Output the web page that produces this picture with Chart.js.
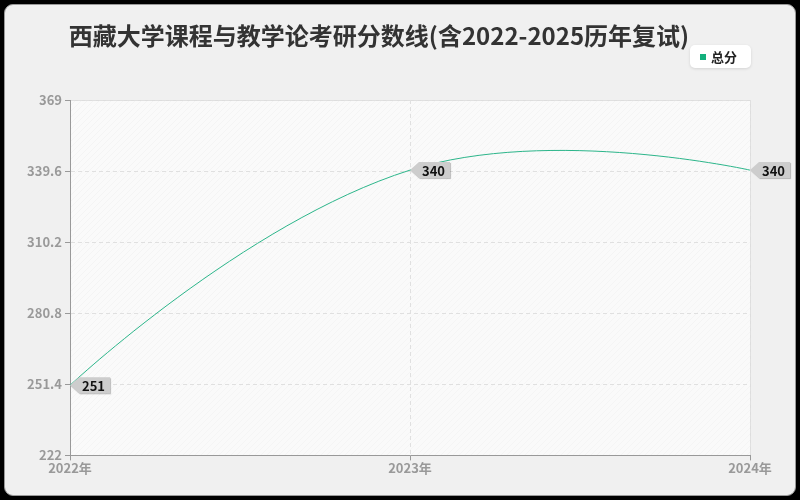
<!DOCTYPE html>
<html>
<head>
<meta charset="utf-8">
<script src="https://cdn.jsdelivr.net/npm/chart.js@4.4.1/dist/chart.umd.min.js"></script>
<style>
  html, body { margin: 0; padding: 0; background: #000; }
  #wrap { position: relative; width: 800px; height: 500px; }
  #panel {
    position: absolute; left: 4px; top: 4px; width: 790px; height: 490px;
    background: #f0f0f0; border: 1px solid #9a9a9a; border-radius: 9px;
  }
  #chart { position: absolute; left: 0; top: 0; }
</style>
</head>
<body>
<div id="wrap">
  <div id="panel"></div>
  <canvas id="chart" width="800" height="500"></canvas>
</div>
<script>
// Chart data
const titleText = '西藏大学课程与教学论考研分数线(含2022-2025历年复试)';
const years = ['2022年', '2023年', '2024年'];
const totalScores = [251, 340, 340];
const seriesName = '总分';
const yTicks = [222, 251.4, 280.8, 310.2, 339.6, 369];

const LINE_COLOR = '#2cb58a';
const FONT = '"Noto Sans CJK SC", "Noto Sans", sans-serif';
const SMOOTH = 0.45;

// --- Plugins ---

const plotBackground = {
  id: 'plotBackground',
  beforeDraw(chart) {
    const { ctx, chartArea: a } = chart;
    ctx.save();
    ctx.fillStyle = '#fafafa';
    ctx.fillRect(a.left, a.top, a.right - a.left, a.bottom - a.top);
    // faint diagonal hatching
    ctx.beginPath();
    ctx.rect(a.left, a.top, a.right - a.left, a.bottom - a.top);
    ctx.clip();
    ctx.strokeStyle = 'rgba(0,0,0,0.025)';
    ctx.lineWidth = 1;
    const h = a.bottom - a.top;
    for (let x = a.left - h; x < a.right; x += 6) {
      ctx.beginPath();
      ctx.moveTo(x, a.bottom);
      ctx.lineTo(x + h, a.top);
      ctx.stroke();
    }
    ctx.restore();
    // light border top/right
    ctx.save();
    ctx.strokeStyle = '#dddddd';
    ctx.lineWidth = 1;
    ctx.beginPath();
    ctx.moveTo(a.left, a.top + 0.5);
    ctx.lineTo(a.right + 0.5, a.top + 0.5);
    ctx.lineTo(a.right + 0.5, a.bottom);
    ctx.stroke();
    ctx.restore();
  },
};

// endpoints keep their own position as control point, inner points
// get a tangent along prev->next split by segment length
const smoothCurve = {
  id: 'smoothCurve',
  beforeDatasetsDraw(chart) {
    const meta = chart.getDatasetMeta(0);
    const pts = meta.data;
    meta.dataset.updateControlPoints(chart.chartArea, 'x');
    pts.forEach((p, i) => {
      const prev = pts[i - 1], next = pts[i + 1];
      if (!prev || !next) {
        p.cp1x = p.cp2x = p.x;
        p.cp1y = p.cp2y = p.y;
        return;
      }
      const vx = next.x - prev.x, vy = next.y - prev.y;
      const d0 = Math.hypot(p.x - prev.x, p.y - prev.y);
      const d1 = Math.hypot(next.x - p.x, next.y - p.y);
      const r = d1 / (d0 + d1);
      p.cp1x = p.x - vx * SMOOTH * (1 - r);
      p.cp1y = p.y - vy * SMOOTH * (1 - r);
      p.cp2x = p.x + vx * SMOOTH * r;
      p.cp2y = p.y + vy * SMOOTH * r;
    });
  },
};

const titleAndLegend = {
  id: 'titleAndLegend',
  afterDraw(chart) {
    const { ctx } = chart;
    ctx.save();
    ctx.fillStyle = '#333333';
    ctx.font = `bold 24px ${FONT}`;
    ctx.textAlign = 'center';
    ctx.textBaseline = 'middle';
    ctx.fillText(titleText, 379, 36);

    // legend box
    const bx = 690, by = 45, bw = 61, bh = 23;
    ctx.shadowColor = 'rgba(0,0,0,0.12)';
    ctx.shadowBlur = 3;
    ctx.shadowOffsetY = 1;
    ctx.fillStyle = '#ffffff';
    ctx.beginPath();
    ctx.roundRect(bx, by, bw, bh, 5);
    ctx.fill();
    ctx.shadowColor = 'transparent';
    ctx.fillStyle = '#12b07c';
    ctx.fillRect(bx + 10, by + 9, 6, 6);
    ctx.fillStyle = '#222222';
    ctx.font = `bold 13px ${FONT}`;
    ctx.textAlign = 'left';
    ctx.fillText(seriesName, bx + 21, by + bh / 2 + 0.5);
    ctx.restore();
  },
};

const pointTags = {
  id: 'pointTags',
  afterDatasetsDraw(chart) {
    const { ctx } = chart;
    const meta = chart.getDatasetMeta(0);
    ctx.save();
    ctx.font = `bold 13px ${FONT}`;
    ctx.textBaseline = 'middle';
    meta.data.forEach((pt, i) => {
      const label = String(totalScores[i]);
      const tw = ctx.measureText(label).width;
      const x = pt.x, y = pt.y;
      const left = x + 9, right = left + tw + 8, top = y - 8, bottom = y + 8;
      ctx.shadowColor = 'rgba(0,0,0,0.25)';
      ctx.shadowOffsetX = 1;
      ctx.shadowOffsetY = 1;
      ctx.shadowBlur = 1;
      ctx.fillStyle = '#cdcdcd';
      ctx.beginPath();
      ctx.moveTo(x, y);
      ctx.lineTo(left, top);
      ctx.lineTo(right, top);
      ctx.lineTo(right, bottom);
      ctx.lineTo(left, bottom);
      ctx.closePath();
      ctx.fill();
      ctx.shadowColor = 'transparent';
      ctx.fillStyle = '#111111';
      ctx.textAlign = 'left';
      ctx.fillText(label, left + 3, y + 0.5);
    });
    ctx.restore();
  },
};

new Chart(document.getElementById('chart'), {
  type: 'line',
  data: {
    labels: years,
    datasets: [{
      label: seriesName,
      data: totalScores,
      borderColor: LINE_COLOR,
      backgroundColor: LINE_COLOR,
      borderWidth: 1,
      pointRadius: 0,
      pointHoverRadius: 0,
      fill: false,
      tension: 0.4,
    }],
  },
  options: {
    responsive: false,
    animation: false,
    layout: { padding: { top: 100, right: 50, bottom: 24, left: 0 } },
    plugins: {
      legend: { display: false },
      title: { display: false },
      tooltip: { enabled: false },
    },
    scales: {
      x: {
        offset: false,
        grid: {
          color: '#e0e0e0',
          tickColor: '#999999',
          tickLength: 5,
          tickBorderDash: [],
        },
        border: { color: '#999999', width: 1, dash: [4, 3] },
        ticks: {
          color: '#999999',
          font: { family: FONT, size: 13, weight: 'bold' },
          padding: 0,
          maxRotation: 0,
        },
      },
      y: {
        min: 222,
        max: 369,
        afterBuildTicks(axis) {
          axis.ticks = yTicks.map(v => ({ value: v }));
        },
        afterFit(axis) {
          axis.width = 70;
        },
        grid: {
          color: '#e0e0e0',
          tickColor: '#999999',
          tickLength: 5,
          tickBorderDash: [],
        },
        border: { color: '#999999', width: 1, dash: [4, 3] },
        ticks: {
          color: '#999999',
          font: { family: FONT, size: 13, weight: 'bold' },
          padding: 3,
          callback: (v) => String(v),
        },
      },
    },
  },
  plugins: [plotBackground, smoothCurve, titleAndLegend, pointTags],
});
</script>
</body>
</html>
